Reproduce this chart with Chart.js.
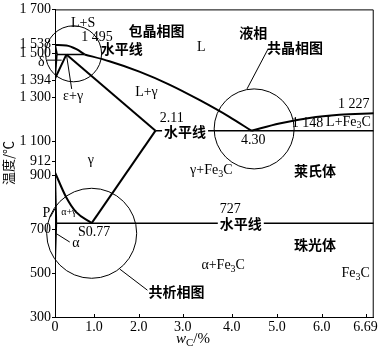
<!DOCTYPE html>
<html><head><meta charset="utf-8">
<script src="https://cdn.jsdelivr.net/npm/chart.js@4/dist/chart.umd.min.js"></script>
<style>html,body{margin:0;padding:0;background:#fff}</style>
</head><body>
<canvas id="c" width="380" height="355"></canvas>
<script>
// ---- tick labels (schematic axes: positions as drawn) ----
const xTickPos  = [0, 0.82, 1.76, 2.68, 3.71, 4.66, 5.60, 6.52];
const xTickText = ['0', '1.0', '2.0', '3.0', '4.0', '5.0', '6.0', '6.69'];
const yTickPos  = [300, 500, 700, 944, 1007, 1100, 1300, 1378, 1500, 1542, 1700];
const yTickText = ['300', '500', '700', '900', '912', '1 100', '1 300', '1 394', '1 500', '1 538', '1 700'];

// ---- phase boundaries [wC, T] ----
const liquidusAB   = [[0,1538],[0.24,1536],[0.45,1519],[0.62,1495]];
const liquidusBC   = [[0.62,1495],[1.14,1464],[1.77,1417],[2.40,1358],[3.03,1288],[3.66,1211],[4.12,1148]];
const liquidusCD   = [[4.12,1148],[4.71,1181],[5.34,1206],[5.97,1220],[6.69,1227]];
const solidusAH    = [[0,1538],[0.04,1495]];
const peritecticHJB= [[0.04,1495],[0.62,1495]];
const boundaryHN   = [[0.04,1495],[0,1385]];
const boundaryJN   = [[0.24,1495],[0,1385]];
const solidusJE    = [[0.24,1495],[2.11,1148]];
const eutecticECF  = [[2.11,1148],[6.69,1148]];
const solvusES     = [[2.11,1148],[0.77,727]];
const lineGS       = [[0,958],[0.235,845],[0.445,777],[0.77,727]];
const lineGP       = [[0,958],[0.025,727]];
const solvusPQ     = [[0.025,727],[0.012,640],[0,560]];
const eutectoidPSK = [[0.025,727],[6.69,727]];

// ---- leader lines ----
const leaderJ         = [[0.24,1495],[0.35,1338]];
const leaderDelta     = [[-0.17,1469],[0.14,1469]];
const leaderP         = [[-0.10,754],[0,793]];
const leaderAlpha     = [[0.03,679],[0.31,641]];
const leaderEutectic  = [[4.47,1519],[4.03,1338]];
const leaderEutectoid = [[1.36,518],[1.94,422]];

// ---- circled regions (centres) ----
const circleCenters = [[0.39,1498],[4.18,1156],[0.77,681]];

// ---- text labels ----
const labelText = ['包晶相图','液相','共晶相图','水平线','水平线','水平线','莱氏体','珠光体','共析相图',
  'L+S','1 495','L','L+γ','2.11','4.30','1 227','1 148','L+Fe₃C','γ+Fe₃C','γ','ε+γ','δ','P','α+γ','727','S0.77','α','α+Fe₃C','Fe₃C'];
const labelAt = [[2.13,1605],[4.16,1596],[5.04,1528],[1.40,1523],[2.73,1145],[3.90,725],[5.46,966],[5.46,631],[2.55,413],
  [0.59,1637],[0.88,1573],[3.07,1528],[1.92,1324],[2.45,1206],[4.16,1106],[6.27,1270],[5.30,1183],[6.16,1188],[3.28,966],[0.75,1011],[0.38,1306],[-0.29,1460],[-0.18,773],[0.29,776],[3.68,789],[0.82,685],[0.44,635],[3.53,536],[6.31,499]];

const SERIF = '"Liberation Serif","Times New Roman",serif';
const CJK = '"Noto Sans CJK SC","Noto Sans CJK JP",sans-serif';
const isCJK = s => /[\u4e00-\u9fff]/.test(s);

const pts = a => a.map(p => ({x:p[0], y:p[1]}));
function lineDS(arr, w, curve, clip){
  return {type:'scatter', data:pts(arr), showLine:true, pointRadius:0, pointHoverRadius:0,
    borderColor:'#000', borderWidth:w, fill:false,
    cubicInterpolationMode: curve ? 'monotone' : 'default', tension: 0, clip: clip===false ? false : undefined};
}
const circleR = [28, 40, 45];
const datasets = [
  lineDS(liquidusAB,2,true), lineDS(liquidusBC,2,true), lineDS(liquidusCD,2,true),
  lineDS(solidusAH,2), lineDS(peritecticHJB,1.6), lineDS(boundaryHN,1.6), lineDS(boundaryJN,2),
  lineDS(solidusJE,2), lineDS(eutecticECF,1.6), lineDS(solvusES,2), lineDS(lineGS,2,true),
  lineDS(lineGP,2), lineDS(solvusPQ,2), lineDS(eutectoidPSK,1.6),
  lineDS(leaderJ,1,false,false), lineDS(leaderDelta,1,false,false), lineDS(leaderP,1,false,false),
  lineDS(leaderAlpha,1,false,false), lineDS(leaderEutectic,1,false,false), lineDS(leaderEutectoid,1,false,false),
  {type:'bubble', data: circleCenters.map((c,i)=>({x:c[0], y:c[1], r:circleR[i]})),
   backgroundColor:'rgba(0,0,0,0)', borderColor:'#000', borderWidth:1, hoverRadius:0, clip:false}
];

function segs(text){
  const out=[]; let cur='';
  for (const ch of text){
    const i='₀₁₂₃₄₅₆₇₈₉'.indexOf(ch);
    if(i>=0){ if(cur) out.push({t:cur}); out.push({t:String(i),sub:true}); cur=''; }
    else cur+=ch;
  }
  if(cur) out.push({t:cur});
  return out;
}
function drawText(ctx, parts, x, y, size, family, weight, bg){
  const fontOf = p => `${p.italic?'italic ':''}${weight||'normal'} ${p.sub? Math.round(size*0.7): size}px ${family}`;
  let w=0; parts.forEach(p=>{ctx.font=fontOf(p); p.w=ctx.measureText(p.t).width; w+=p.w;});
  let sx = x - w/2;
  if (bg){ ctx.fillStyle='#fff'; ctx.fillRect(sx-2, y-size/2-1, w+4, size+2); }
  ctx.fillStyle='#000'; ctx.textBaseline='middle'; ctx.textAlign='left';
  parts.forEach(p=>{ ctx.font=fontOf(p); ctx.fillText(p.t, sx, y + (p.sub? size*0.28:0)); sx+=p.w; });
}

const overlay = {
  id:'overlay',
  afterDraw(chart){
    const ctx = chart.ctx, a = chart.chartArea, xs = chart.scales.x, ys = chart.scales.y;
    ctx.save();
    ctx.strokeStyle='#000'; ctx.lineWidth=1;
    ctx.beginPath(); ctx.moveTo(a.left, a.top+0.5); ctx.lineTo(a.right-0.5, a.top+0.5); ctx.lineTo(a.right-0.5, a.bottom); ctx.stroke();
    xs.ticks.forEach((t,i)=>{ const px=Math.round(xs.getPixelForTick(i))+0.5; ctx.beginPath(); ctx.moveTo(px,a.bottom); ctx.lineTo(px,a.bottom-3); ctx.stroke(); });
    labelText.forEach((s,i)=>{
      const px = xs.getPixelForValue(labelAt[i][0]), py = ys.getPixelForValue(labelAt[i][1]);
      const cjk = isCJK(s);
      const size = s==='α+γ' ? 10 : 14;
      drawText(ctx, segs(s), px, py, size, cjk?CJK:SERIF, cjk?'bold':'normal', s==='水平线' && i!==3);
    });
    drawText(ctx, [{t:'w',italic:true},{t:'C',sub:true},{t:'/%'}], 193, 339, 15, SERIF, 'normal', false);
    ctx.save(); ctx.translate(8, 163); ctx.rotate(-Math.PI/2);
    drawText(ctx, [{t:'温度/℃'}], 0, 0, 13, CJK, 'normal', false);
    ctx.restore();
    ctx.restore();
  }
};

new Chart(document.getElementById('c'), {
  type:'scatter',
  data:{datasets},
  options:{
    responsive:false, animation:false, events:[],
    layout:{padding:{top:8,right:5,left:0,bottom:0}, autoPadding:false},
    plugins:{legend:{display:false}, tooltip:{enabled:false}},
    scales:{
      x:{type:'linear', min:0, max:6.69,
        afterBuildTicks: s => { s.ticks = xTickPos.map(v=>({value:v})); },
        afterFit: s => { s.height = 38; },
        ticks:{autoSkip:false, maxRotation:0, padding:2, color:'#000', font:{family:SERIF,size:14},
          callback:(v,i)=>xTickText[i]},
        grid:{display:false, drawTicks:false},
        border:{display:true, color:'#000', width:1}},
      y:{type:'linear', min:300, max:1700,
        afterBuildTicks: s => { s.ticks = yTickPos.map(v=>({value:v})); },
        afterFit: s => { s.width = 55; },
        ticks:{autoSkip:false, padding:1, color:'#000', font:{family:SERIF,size:14},
          callback:(v,i)=>yTickText[i]},
        grid:{display:true, drawOnChartArea:false, drawTicks:true, tickLength:3, color:'#000'},
        border:{display:true, color:'#000', width:1}}
    }
  },
  plugins:[overlay]
});
</script>
</body></html>
